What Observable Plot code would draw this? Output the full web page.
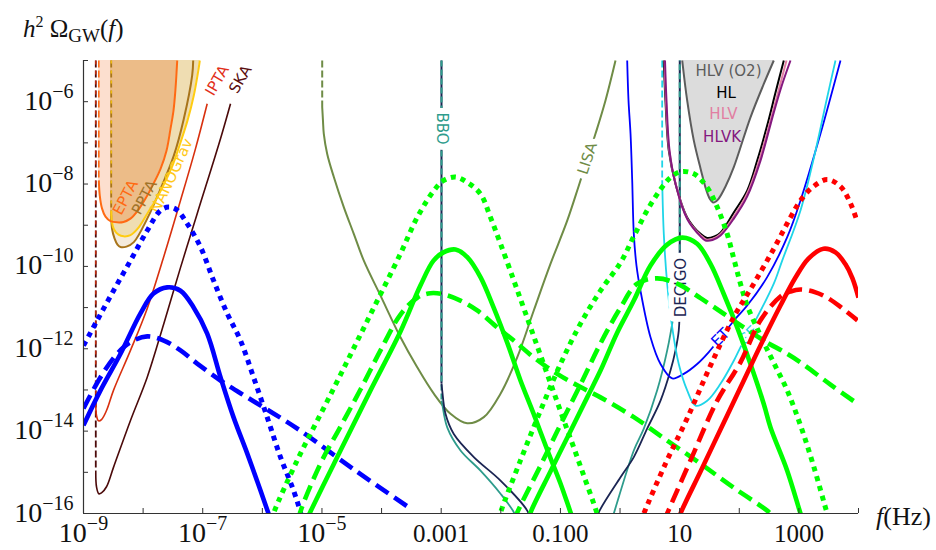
<!DOCTYPE html>
<html><head><meta charset="utf-8">
<script src="https://cdn.jsdelivr.net/npm/d3@7"></script>
<script src="https://cdn.jsdelivr.net/npm/@observablehq/plot@0.6"></script>
<style>
html,body{margin:0;padding:0;background:#fff;}
#chart{width:936px;height:550px;}
</style></head><body><div id="chart"></div>
<script>
// ---------- axis ticks ----------
const xTickValues = [1e-9,1e-8,1e-7,1e-6,1e-5,1e-4,1e-3,1e-2,1e-1,1,10,100,1000,1e4];
const yTickValues = [1e-16,1e-15,1e-14,1e-13,1e-12,1e-11,1e-10,1e-9,1e-8,1e-7,1e-6,1e-5];
const xLabelValues = [1e-9,1e-7,1e-5,1e-3,1e-1,10,1000];
const xLabelTexts  = ["10^-9","10^-7","10^-5","0.001","0.100","10","1000"];
const yLabelValues = [1e-16,1e-14,1e-12,1e-10,1e-8,1e-6];
const yLabelTexts  = ["10^-16","10^-14","10^-12","10^-10","10^-8","10^-6"];

// ---------- data: [log10 f (Hz), log10 h^2 Omega_GW] ----------
// signals (blue)
const blueSolid = [[-9.00,-13.86],[-8.715,-13.01],[-8.379,-12.12],[-8.044,-11.14],[-7.826,-10.66],[-7.596,-10.51],[-7.373,-10.59],[-7.155,-10.99],[-6.925,-11.63],[-6.702,-12.69],[-6.484,-13.66],[-6.254,-14.54],[-6.031,-15.44],[-5.897,-16.0],[-5.83,-16.29]];
const blueDashed = [[-9.00,-13.45],[-8.715,-12.69],[-8.435,-12.12],[-8.212,-11.84],[-7.931,-11.70],[-7.653,-11.80],[-7.373,-12.04],[-7.093,-12.36],[-6.702,-12.77],[-6.254,-13.18],[-5.813,-13.57],[-5.360,-13.99],[-4.437,-14.96],[-3.515,-15.88]];
const blueDotted = [[-9.00,-11.92],[-8.770,-11.31],[-8.497,-10.59],[-8.212,-9.86],[-7.931,-9.13],[-7.708,-8.64],[-7.574,-8.56],[-7.440,-8.62],[-7.261,-8.96],[-7.037,-9.53],[-6.819,-10.34],[-6.590,-11.14],[-6.366,-11.80],[-6.148,-12.69],[-5.919,-13.66],[-5.696,-14.63],[-5.477,-15.44],[-5.360,-15.97],[-5.327,-16.17]];
// signals (green, low-frequency group)
const greenSolidA = [[-5.259,-16.17],[-5.192,-15.95],[-4.689,-14.47],[-4.186,-13.01],[-3.683,-11.58],[-3.347,-10.46],[-3.129,-9.86],[-2.961,-9.66],[-2.760,-9.59],[-2.559,-9.78],[-2.341,-10.26],[-2.123,-10.99],[-1.888,-11.87],[-1.670,-12.77],[-1.452,-13.57],[-1.217,-14.47],[-0.999,-15.27],[-0.831,-15.97],[-0.781,-16.17]];
const greenDottedA = [[-5.846,-16.17],[-5.808,-15.98],[-5.415,-14.71],[-4.806,-12.97],[-4.253,-11.36],[-3.683,-9.69],[-3.402,-8.81],[-3.124,-8.16],[-2.956,-7.91],[-2.760,-7.83],[-2.564,-7.96],[-2.341,-8.24],[-2.173,-8.81],[-2.005,-9.45],[-1.782,-10.34],[-1.614,-11.02],[-1.447,-11.70],[-1.279,-12.38],[-1.111,-13.06],[-0.943,-13.74],[-0.776,-14.40],[-0.608,-15.08],[-0.440,-15.76],[-0.378,-16.03]];
const greenDashedA = [[-5.394,-16.17],[-5.360,-15.95],[-5.025,-14.79],[-4.689,-13.89],[-4.354,-12.99],[-4.018,-12.04],[-3.683,-11.17],[-3.402,-10.76],[-3.179,-10.65],[-2.956,-10.68],[-2.676,-10.83],[-2.396,-11.07],[-2.061,-11.48],[-1.782,-11.80],[-1.447,-12.21],[-1.054,-12.61],[-0.663,-12.93],[-0.328,-13.18],[0.231,-13.66],[0.791,-14.23],[1.350,-14.79],[1.903,-15.37],[2.468,-15.93],[2.557,-16.05]];
// signals (green, high-frequency group)
const greenSolidB = [[-1.536,-16.17],[-1.502,-15.98],[-1.167,-14.98],[-0.886,-14.16],[-0.551,-13.18],[-0.328,-12.53],[-0.048,-11.61],[0.231,-10.83],[0.511,-9.98],[0.791,-9.47],[1.043,-9.30],[1.294,-9.45],[1.517,-9.94],[1.740,-10.67],[1.965,-11.48],[2.188,-12.37],[2.411,-13.34],[2.524,-13.91],[2.804,-14.96],[3.027,-16.0],[3.077,-16.22]];
const greenDottedB = [[-2.039,-16.17],[-2.005,-15.98],[-1.670,-14.71],[-1.334,-13.50],[-0.999,-12.37],[-0.663,-11.39],[-0.328,-10.59],[0.008,-9.91],[0.231,-9.27],[0.455,-8.64],[0.679,-8.13],[0.846,-7.84],[1.014,-7.70],[1.237,-7.75],[1.462,-8.08],[1.630,-8.56],[1.797,-9.21],[1.908,-9.81],[2.020,-10.42],[2.133,-10.95],[2.356,-11.68],[2.574,-12.33],[2.804,-13.01],[3.027,-13.86],[3.245,-14.84],[3.475,-16.0],[3.513,-16.17]];
const greenDashedB = [[-1.770,-16.17],[-1.725,-15.98],[-1.334,-14.84],[-0.999,-13.84],[-0.663,-12.87],[-0.328,-11.87],[0.008,-11.00],[0.288,-10.42],[0.623,-10.29],[0.959,-10.42],[1.350,-10.77],[1.740,-11.15],[2.076,-11.48],[2.411,-11.80],[2.804,-12.12],[3.027,-12.33],[3.530,-12.87],[3.978,-13.33]];
// signals (red)
const redSolid = [[0.964,-16.22],[1.014,-16.0],[1.350,-14.98],[1.685,-13.96],[2.020,-12.94],[2.356,-11.92],[2.691,-10.95],[2.943,-10.27],[3.161,-9.81],[3.413,-9.57],[3.614,-9.66],[3.782,-9.95],[3.899,-10.29],[4.0,-10.76]];
const redDashed = [[0.729,-16.22],[0.791,-16.0],[1.182,-14.71],[1.630,-13.26],[2.020,-12.33],[2.356,-11.31],[2.691,-10.73],[2.859,-10.61],[3.027,-10.56],[3.279,-10.63],[3.475,-10.76],[3.731,-11.02],[3.983,-11.31]];
const redDotted = [[0.343,-16.22],[0.399,-16.0],[0.762,-14.79],[1.126,-13.69],[1.517,-12.41],[1.908,-11.23],[2.244,-10.42],[2.579,-9.57],[2.859,-8.81],[3.027,-8.40],[3.228,-8.08],[3.475,-7.89],[3.698,-8.06],[3.866,-8.47],[3.983,-8.93]];

// sensitivity curves (walls = vertical parts)
const iptaWall = [[-8.794,-5],[-8.794,-13.26]];
const ipta = [[-8.794,-13.26],[-8.782,-13.62],[-8.748,-13.75],[-8.698,-13.72],[-8.614,-13.50],[-8.497,-13.01],[-8.212,-12.04],[-7.931,-11.02],[-7.653,-9.76],[-7.373,-8.40],[-7.121,-7.14],[-6.925,-6.05]];
const skaWall = [[-8.794,-5],[-8.794,-14.96]];
const ska = [[-8.794,-14.96],[-8.782,-15.35],[-8.743,-15.52],[-8.698,-15.50],[-8.614,-15.35],[-8.497,-14.88],[-8.212,-13.74],[-7.931,-12.69],[-7.653,-11.39],[-7.373,-10.03],[-7.093,-8.72],[-6.702,-6.90],[-6.534,-6.05]];
const eptaWall = [[-8.743,-5],[-8.743,-7.91]];
const epta = [[-8.743,-7.91],[-8.727,-8.28],[-8.690,-8.59],[-8.631,-8.79],[-8.547,-8.90],[-8.435,-8.93],[-8.329,-8.92],[-8.212,-8.84],[-8.077,-8.62],[-7.931,-8.28],[-7.826,-7.99],[-7.708,-7.63],[-7.608,-7.19],[-7.541,-6.66],[-7.490,-6.21],[-7.457,-5.69],[-7.428,-5.0]];
const pptaWall = [[-8.535,-5],[-8.535,-8.76]];
const ppta = [[-8.535,-8.76],[-8.522,-9.08],[-8.480,-9.32],[-8.430,-9.47],[-8.379,-9.53],[-8.279,-9.52],[-8.156,-9.41],[-7.931,-8.84],[-7.708,-8.12],[-7.485,-7.31],[-7.318,-6.42],[-7.177,-5.36],[-7.160,-5.0]];
const nanoWall = [[-8.535,-5],[-8.535,-8.64]];
const nano = [[-8.535,-8.64],[-8.522,-8.93],[-8.492,-9.09],[-8.413,-9.23],[-8.324,-9.27],[-8.212,-9.24],[-8.077,-9.06],[-7.931,-8.72],[-7.792,-8.40],[-7.653,-8.01],[-7.507,-7.55],[-7.373,-6.99],[-7.256,-6.46],[-7.150,-5.85],[-7.066,-5.17],[-7.049,-5.0]];
const lisaWall = [[-4.996,-5],[-4.996,-6.13]];
const lisa = [[-4.996,-6.13],[-4.983,-6.46],[-4.969,-6.78],[-4.912,-7.27],[-4.801,-7.83],[-4.634,-8.56],[-4.466,-9.21],[-4.298,-9.86],[-4.018,-10.71],[-3.683,-11.72],[-3.402,-12.45],[-3.124,-13.09],[-2.844,-13.58],[-2.564,-13.81],[-2.285,-13.66],[-2.005,-13.09],[-1.725,-12.21],[-1.447,-11.07],[-1.167,-9.94],[-0.886,-8.89],[-0.692,-8.04],[-0.546,-7.38],[-0.412,-6.78],[-0.244,-5.97],[-0.076,-5.0]];
const bboWall = [[-2.995,-5],[-2.995,-13.26]];
const bbo = [[-2.995,-13.26],[-2.983,-13.34],[-2.899,-13.91],[-2.676,-14.47],[-2.341,-14.96],[-2.005,-15.52],[-1.782,-15.97],[-1.737,-16.17],[-1.502,-17.14],[-0.412,-17.14],[-0.143,-16.17],[-0.105,-16.0],[0.231,-14.47],[0.399,-13.94],[0.623,-13.01],[0.791,-12.04],[0.902,-11.15],[0.980,-10.34],[1.002,-9.61]];
const bboWallHigh = [[1.002,-9.61],[1.002,-5]];
const decigoWall = [[-2.995,-5],[-2.995,-12.84]];
const decigo = [[-2.995,-12.84],[-2.983,-13.01],[-2.928,-13.58],[-2.789,-14.07],[-2.453,-14.63],[-2.005,-15.20],[-1.557,-15.93],[-1.502,-16.17],[-1.334,-17.14],[-0.496,-17.14],[-0.395,-16.17],[-0.356,-15.97],[0.008,-15.12],[0.231,-14.63],[0.455,-13.94],[0.679,-13.26],[0.846,-12.53],[0.930,-12.04],[0.985,-11.56],[1.002,-10.83]];
const decigoWallHigh = [[1.002,-10.83],[1.002,-5]];
const et = [[0.120,-5.0],[0.142,-5.97],[0.176,-6.78],[0.204,-7.91],[0.231,-9.21],[0.276,-9.98],[0.343,-10.59],[0.511,-11.72],[0.679,-12.37],[0.875,-12.72],[1.069,-12.61],[1.294,-12.37],[1.489,-12.08],[1.685,-11.73],[1.937,-11.27],[2.133,-10.95],[2.468,-10.26],[2.804,-9.29],[3.027,-8.40],[3.362,-6.78],[3.698,-5.0]];
const ceWall = [[0.707,-5],[0.707,-7.91]];
const ce = [[0.707,-7.91],[0.734,-9.21],[0.791,-10.42],[0.875,-11.48],[0.985,-12.37],[1.126,-13.01],[1.266,-13.38],[1.462,-13.26],[1.685,-12.85],[1.908,-12.29],[2.049,-11.88],[2.301,-11.23],[2.579,-10.42],[2.720,-9.86],[3.027,-8.64],[3.279,-7.19],[3.463,-5.97],[3.614,-5.0]];
const hlvO2 = [[1.043,-5],[1.126,-5.97],[1.237,-6.94],[1.350,-7.62],[1.450,-8.16],[1.510,-8.37],[1.559,-8.45],[1.610,-8.42],[1.652,-8.36],[1.769,-8.06],[1.908,-7.59],[2.188,-6.38],[2.411,-5.57],[2.579,-5.0]];
const hl = [[0.734,-5],[0.762,-5.97],[0.818,-7.19],[0.930,-7.99],[1.126,-8.81],[1.350,-9.21],[1.462,-9.31],[1.584,-9.27],[1.685,-9.18],[1.908,-8.69],[2.133,-8.16],[2.301,-7.43],[2.468,-6.58],[2.608,-5.78],[2.747,-5.0]];
const hlv = [[0.746,-5],[0.770,-5.97],[0.825,-7.19],[0.935,-8.01],[1.128,-8.84],[1.350,-9.24],[1.450,-9.35],[1.568,-9.32],[1.685,-9.21],[1.908,-8.79],[2.133,-8.23],[2.322,-7.48],[2.524,-6.46],[2.792,-5.0]];
const hlvk = [[0.754,-5],[0.779,-5.97],[0.830,-7.19],[0.938,-8.04],[1.131,-8.86],[1.350,-9.27],[1.433,-9.37],[1.551,-9.36],[1.685,-9.25],[1.908,-8.84],[2.133,-8.30],[2.356,-7.43],[2.579,-6.26],[2.708,-5.63],[2.859,-5.0]];

// curve labels: name, log10 f, log10 Omega
const labelNames = ["EPTA","PPTA","NANOGrav","IPTA","SKA","BBO","LISA","DECIGO","ET","CE","HLV (O2)","HL","HLV","HLVK"];
const labelLogF  = [-8.295,-7.977,-7.520,-6.757,-6.366,-2.995,-0.546,1.031,1.685,2.155,1.819,1.779,1.735,1.713];
const labelLogO  = [-8.327,-8.327,-7.800,-5.486,-5.461,-6.651,-7.380,-10.513,-11.727,-11.678,-5.267,-5.794,-6.311,-6.863];

// ---------- styles ----------
const C = {
  blue:"#0000FF", green:"#00FF00", red:"#FF0000",
  epta:"#FF6A13", ppta:"#A8741A", nano:"#FFCC11", ipta:"#D8300E", ska:"#4B0A0A",
  lisa:"#6F8C46", bbo:"#2E9C8C", decigo:"#1B2553", et:"#0000FF", ce:"#1FD5E8",
  o2:"#5C5C5C", hl:"#000000", hlv:"#E27FA2", hlvk:"#84187F"
};
const labelStyle = {
  "EPTA":{fill:"#FF6A13",rotate:-62}, "PPTA":{fill:"#A0742A",rotate:-62}, "NANOGrav":{fill:"#FFC81A",rotate:-65},
  "IPTA":{fill:"#E2301A",rotate:-60}, "SKA":{fill:"#5A0E0E",rotate:-60},
  "BBO":{fill:"#2E9C8C",rotate:90,halo:12}, "LISA":{fill:"#6F8C46",rotate:-72,halo:12},
  "DECIGO":{fill:"#1B2553",rotate:-90,halo:12}, "ET":{fill:"#0000FF",rotate:-45,halo:7}, "CE":{fill:"#1FD5E8",rotate:-45,halo:7},
  "HLV (O2)":{fill:"#5C5C5C",rotate:0}, "HL":{fill:"#000000",rotate:0}, "HLV":{fill:"#E27FA2",rotate:0}, "HLVK":{fill:"#84187F",rotate:0}
};

const pts = a => a.map(([lf, lo]) => ({f: 10 ** lf, o: 10 ** lo}));
const ln = (a, o) => Plot.line(pts(a), {x: "f", y: "o", clip: true, curve: "catmull-rom", strokeLinecap: "butt", strokeLinejoin: "round", ...o});
const wall = (a, o) => Plot.line(pts(a), {x: "f", y: "o", clip: true, strokeLinecap: "butt", ...o});
const ar = (a, o) => Plot.areaY(pts(a), {x: "f", y1: "o", y2: 1e-5, clip: true, curve: "catmull-rom", ...o});
const SOLID = {strokeWidth: 4.6};
const DASH = {strokeWidth: 4.6, strokeDasharray: "15,7"};
const DOT = {strokeWidth: 5, strokeDasharray: "5,5"};

const eptaAll = eptaWall.concat(epta.slice(1));
const eptaInner = eptaAll.filter(d => d[0] >= -8.547);

const labelMarks = labelNames.map((n, i) => {
  const s = labelStyle[n];
  const o = {x: d => 10 ** d.lf, y: d => 10 ** d.lo, text: d => d.name, fill: s.fill, rotate: s.rotate,
    fontSize: 15, fontFamily: "DejaVu Sans", textAnchor: "middle", lineAnchor: "middle"};
  if (s.halo) { o.stroke = "white"; o.strokeWidth = s.halo; }
  return Plot.text([{name: n, lf: labelLogF[i], lo: labelLogO[i]}], o);
});

const chart = Plot.plot({
  width: 936, height: 550,
  marginLeft: 83, marginRight: 78, marginTop: 60, marginBottom: 37,
  x: {type: "log", domain: [1e-9, 1e4], label: null},
  y: {type: "log", domain: [1e-16, 1e-5], label: null},
  style: {background: "white", overflow: "visible"},
  marks: [
    // PTA fills
    ar(pptaWall.concat(ppta.slice(1)), {fill: "#F4EADB"}),
    ar(nanoWall.concat(nano.slice(1)), {fill: "#EFDDB2"}),
    ar(eptaAll, {fill: "#FCDFCF"}),
    ar(eptaInner, {fill: "#ECBC88"}),
    ar(hlvO2, {fill: "#DCDCDC"}),
    // PTA walls & curves
    wall(skaWall, {stroke: C.ska, strokeWidth: 1.8, strokeDasharray: "7,3"}),
    wall(iptaWall, {stroke: C.ipta, strokeWidth: 1.2, strokeDasharray: "4,6"}),
    wall(eptaWall, {stroke: C.epta, strokeWidth: 1.6, strokeDasharray: "7,3"}),
    wall(pptaWall, {stroke: C.ppta, strokeWidth: 1.8, strokeDasharray: "7,3"}),
    wall(nanoWall, {stroke: C.nano, strokeWidth: 1.2, strokeDasharray: "3,7"}),
    ln(ska, {stroke: C.ska, strokeWidth: 1.6}),
    ln(ipta, {stroke: C.ipta, strokeWidth: 1.6}),
    ln(ppta, {stroke: C.ppta, strokeWidth: 2}),
    ln(nano, {stroke: C.nano, strokeWidth: 2}),
    ln(epta, {stroke: C.epta, strokeWidth: 2}),
    // space-based
    wall(lisaWall, {stroke: C.lisa, strokeWidth: 2, strokeDasharray: "7,3"}),
    ln(lisa, {stroke: C.lisa, strokeWidth: 2}),
    wall(decigoWall, {stroke: C.decigo, strokeWidth: 2}),
    wall(bboWall, {stroke: C.bbo, strokeWidth: 2, strokeDasharray: "6,3"}),
    ln(bbo, {stroke: C.bbo, strokeWidth: 1.8}),
    ln(decigo, {stroke: C.decigo, strokeWidth: 1.8}),
    wall(decigoWallHigh, {stroke: C.decigo, strokeWidth: 2}),
    wall(bboWallHigh, {stroke: C.bbo, strokeWidth: 2, strokeDasharray: "6,3"}),
    // ground-based
    ln(et, {stroke: C.et, strokeWidth: 1.8}),
    wall(ceWall, {stroke: C.ce, strokeWidth: 1.8, strokeDasharray: "7,3"}),
    ln(ce, {stroke: C.ce, strokeWidth: 1.8}),
    ln(hl, {stroke: C.hl, strokeWidth: 2}),
    ln(hlv, {stroke: C.hlv, strokeWidth: 2}),
    ln(hlvk, {stroke: C.hlvk, strokeWidth: 2}),
    ln(hlvO2, {stroke: C.o2, strokeWidth: 2}),
    // labels
    ...labelMarks,
    // signal curves
    ln(blueDashed, {stroke: C.blue, ...DASH}),
    ln(blueDotted, {stroke: C.blue, ...DOT}),
    ln(blueSolid, {stroke: C.blue, ...SOLID}),
    ln(greenDashedA, {stroke: C.green, ...DASH}),
    ln(greenDottedA, {stroke: C.green, ...DOT}),
    ln(greenSolidA, {stroke: C.green, ...SOLID}),
    ln(greenDashedB, {stroke: C.green, ...DASH}),
    ln(greenDottedB, {stroke: C.green, ...DOT}),
    ln(greenSolidB, {stroke: C.green, ...SOLID}),
    ln(redDashed, {stroke: C.red, ...DASH}),
    ln(redDotted, {stroke: C.red, ...DOT}),
    ln(redSolid, {stroke: C.red, ...SOLID}),
    // axes
    Plot.ruleX([1e-9], {stroke: "#333", strokeWidth: 1.2}),
    Plot.ruleY([1e-16], {stroke: "#333", strokeWidth: 1.2}),
    Plot.axisX(xTickValues, {tickSize: 5, dy: -5, fill: "none", stroke: "#333", label: null}),
    Plot.axisY(yTickValues, {tickSize: 5, dx: 5, fill: "none", stroke: "#333", label: null}),
    Plot.axisX(xLabelValues, {tickSize: 0, tickPadding: 11, stroke: "none", label: null,
      tickFormat: d => xLabelTexts[xLabelValues.indexOf(d)], fontSize: 25, fontFamily: "Liberation Serif", fill: "#111"}),
    Plot.axisY(yLabelValues, {tickSize: 0, tickPadding: 10, stroke: "none", label: null,
      tickFormat: d => yLabelTexts[yLabelValues.indexOf(d)], fontSize: 25, fontFamily: "Liberation Serif", fill: "#111"})
  ]
});

document.getElementById("chart").appendChild(chart);
const svg = d3.select(chart);

// superscript exponents in tick labels
svg.selectAll('g[aria-label$="tick label"] text').each(function () {
  const m = /^10\^(-?\d+)$/.exec(this.textContent);
  if (!m) return;
  const el = d3.select(this);
  el.text(null);
  el.append("tspan").attr("font-size", 28).text("10");
  el.append("tspan").attr("font-size", 20).attr("dy", -12).text(m[1].replace("-", "\u2212"));
});

// y-axis title
const t = svg.append("text").attr("x", 23).attr("y", 37).attr("text-anchor", "start")
  .attr("font-family", "Liberation Serif").attr("font-size", 25).attr("fill", "#111");
t.append("tspan").attr("font-style", "italic").text("h");
t.append("tspan").attr("font-size", 16).attr("dy", -10).text("2");
t.append("tspan").attr("dy", 10).text(" \u03A9");
t.append("tspan").attr("font-size", 19).attr("dy", 5).text("GW");
t.append("tspan").attr("dy", -5).text("(");
t.append("tspan").attr("font-style", "italic").text("f");
t.append("tspan").text(")");

// x-axis title
const xt = svg.append("text").attr("x", 876).attr("y", 525).attr("text-anchor", "start")
  .attr("font-family", "Liberation Serif").attr("font-size", 26).attr("fill", "#111");
xt.append("tspan").attr("font-style", "italic").text("f");
xt.append("tspan").text("(Hz)");
</script>
</body></html>
